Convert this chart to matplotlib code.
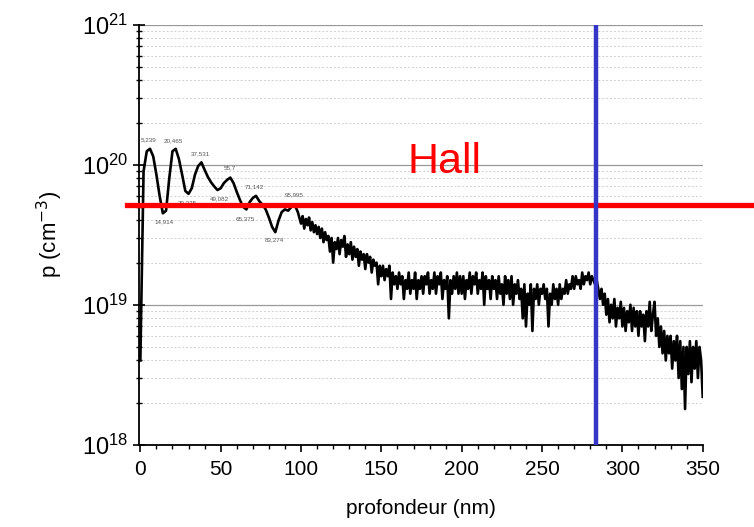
from matplotlib import pyplot as plt
from matplotlib.ticker import LogLocator, MultipleLocator, NullFormatter
import numpy as np

# depth (nm): 2 nm steps over the oscillations, 1 nm steps over the noisy tail
depth_head = np.arange(0, 100, 2)
depth_tail = np.arange(100, 351, 1)
# hole concentration in units of 1e18 cm^-3
p_head = [4, 90, 125, 130, 115, 85, 60, 45, 47, 80,
          125, 130, 110, 85, 65, 62, 68, 85, 98, 104,
          92, 82, 75, 70, 66, 68, 74, 78, 81, 74,
          64, 56, 50, 48, 54, 58, 60, 55, 52, 48,
          42, 36, 33, 40, 46, 48, 47, 50, 52, 46]
p_tail = [38, 43, 35, 41, 37, 42, 34, 39, 33, 37,
          32, 36, 30, 35, 28, 33, 29, 31, 24, 30,
          20, 28, 25, 30, 23, 29, 26, 31, 22, 27,
          23, 28, 21, 26, 22, 25, 19, 24, 21, 23,
          18, 23, 20, 22, 17, 21, 19, 20, 14, 19,
          16, 19, 15, 18, 16, 19, 11, 17, 14, 16,
          13, 17, 14, 16, 11, 15, 13, 17, 12, 15,
          13, 17, 11, 15, 13, 16, 12, 16, 14, 17,
          12, 15, 13, 17, 12, 16, 14, 17, 11, 15,
          13, 16, 8, 15, 12, 16, 13, 17, 12, 16,
          12, 16, 11, 15, 13, 17, 12, 16, 14, 17,
          12, 15, 13, 17, 10, 16, 13, 15, 11, 16,
          13, 15, 11, 16, 12, 14, 10, 16, 12, 15,
          11, 16, 10, 14, 12, 15, 11, 13, 8, 14,
          7, 12, 10, 14, 6.5, 13, 11, 14, 10, 13,
          12, 14, 11, 13, 7, 12, 10, 14, 11, 13,
          10, 14, 11, 13, 12, 15, 12, 14, 13, 16,
          13, 16, 14, 15, 13, 17, 14, 16, 15, 17,
          14, 16, 15, 14, 15, 13, 11, 13, 10, 12,
          8.5, 11, 7.5, 10, 8, 11, 7, 9.5, 8, 10.5,
          7, 9.5, 6.5, 9, 7.5, 10, 6.5, 9.5, 7, 9,
          6, 9, 7, 8.5, 5.5, 9, 7, 10.5, 6.5, 8.5,
          10.5, 6, 8, 5, 7, 4.5, 6.5, 4, 6, 4.5,
          6, 3.5, 5.5, 4, 6, 3, 5.5, 2.5, 5, 1.8,
          5, 3.2, 5.5, 2.8, 5, 3.5, 5.5, 3, 5, 4,
          2.2]
depth = np.concatenate([depth_head, depth_tail])
p = np.array(p_head + p_tail) * 1e18

# peak / valley labels (nm) and whether they sit above (1) or below (-1)
peak_labels = ['5,239', '14,914', '20,465', '29,375', '37,531', '49,082',
               '55,7', '65,375', '71,142', '83,274', '95,995']
peak_x = [5.239, 14.914, 20.465, 29.375, 37.531, 49.082,
          55.7, 65.375, 71.142, 83.274, 95.995]
peak_side = [1, -1, 1, -1, 1, -1, 1, -1, 1, -1, 1]

hall_level = 5.2e19
hall_depth = 283.5

plt.rcParams['font.family'] = ['Liberation Sans', 'DejaVu Sans']
fig = plt.figure(figsize=(7.54, 5.27), dpi=100)
ax = fig.add_axes([0.184, 0.156, 0.748, 0.797])

ax.plot(depth, p, color='black', lw=1.9, zorder=3)

for lab, xv, side in zip(peak_labels, peak_x, peak_side):
    yv = 10 ** np.interp(xv, depth, np.log10(p))
    ax.annotate(lab, (xv, yv), xytext=(0, 7 * side), textcoords='offset points',
                ha='center', va='center', fontsize=4.5, color='#555555', zorder=4)

ax.set_yscale('log')
ax.set_ylim(1e18, 1e21)
ax.set_xlim(-1, 350)
ax.xaxis.set_major_locator(MultipleLocator(50))
ax.xaxis.set_minor_locator(MultipleLocator(10))
ax.yaxis.set_major_locator(LogLocator(base=10, numticks=10))
ax.yaxis.set_minor_locator(LogLocator(base=10, subs=np.arange(2, 10), numticks=10))
ax.yaxis.set_minor_formatter(NullFormatter())

ax.grid(which='major', axis='y', color='#999999', lw=0.9)
ax.grid(which='minor', axis='y', color='#d0d0d0', lw=0.7, ls=(0, (2, 2)))
ax.set_axisbelow(True)

for s in ['top', 'right']:
    ax.spines[s].set_visible(False)
for s in ['left', 'bottom']:
    ax.spines[s].set_linewidth(1.3)

ax.tick_params(axis='y', which='major', direction='inout', length=8, width=1.2, labelsize=17)
ax.tick_params(axis='y', which='minor', direction='inout', length=5, width=1)
ax.tick_params(axis='x', which='major', direction='out', length=5, width=1.2, labelsize=15, pad=6)
ax.tick_params(axis='x', which='minor', direction='out', length=3, width=1)

ax.set_xlabel('profondeur (nm)', fontsize=15, labelpad=14)
ax.set_ylabel('p (cm$^{-3}$)', fontsize=16, labelpad=12)

# Hall level and depth marker
ax.axhline(hall_level, xmin=-0.021, xmax=1.09, color='#ff0000', lw=3.8, clip_on=False, zorder=5)
ax.axvline(hall_depth, color='#3535c8', lw=3.2, zorder=5)
fig.text(0.590, 0.693, 'Hall', color='#ff0000', fontsize=31, ha='center', va='center')

plt.savefig('out.png', dpi=100)
